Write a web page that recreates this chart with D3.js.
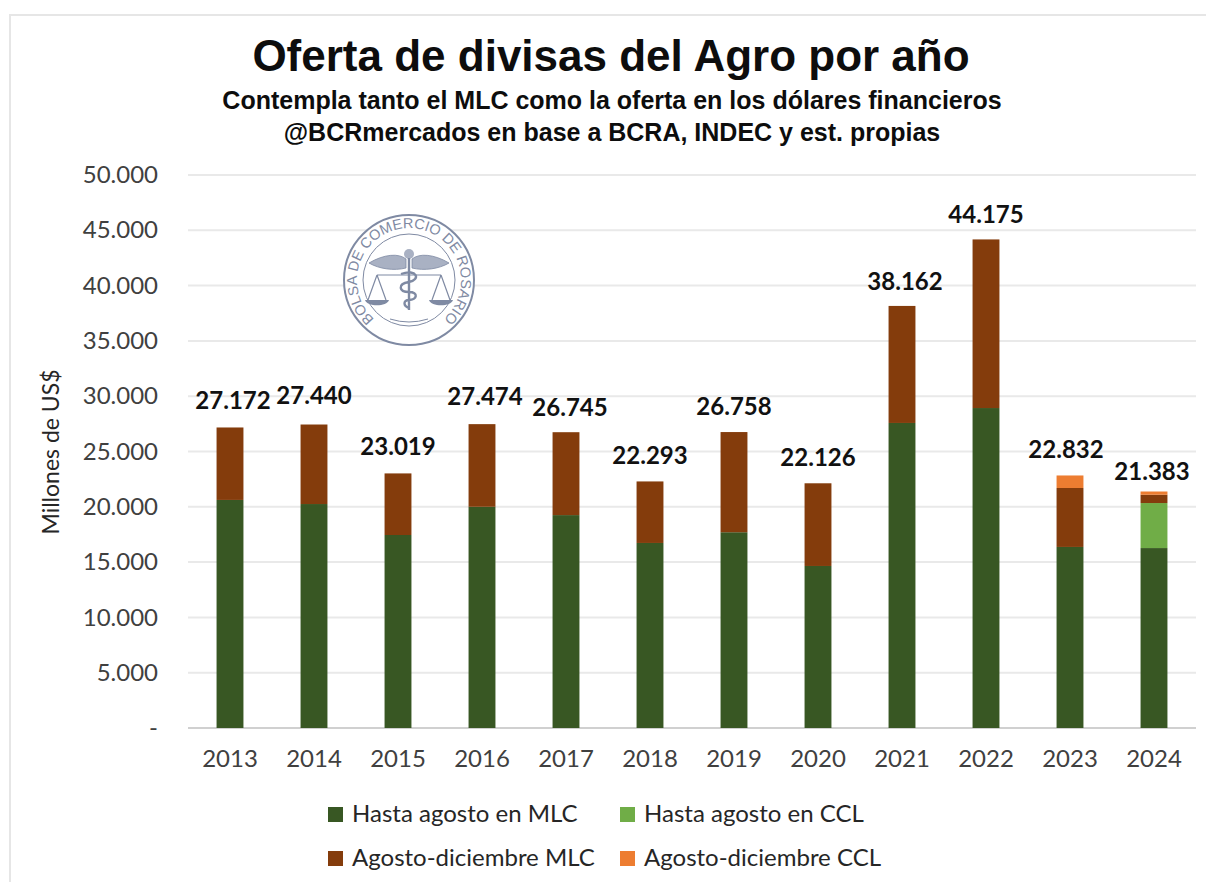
<!DOCTYPE html>
<html>
<head>
<meta charset="utf-8">
<script src="https://cdn.jsdelivr.net/npm/d3@7"></script>
<style>
  html, body { margin: 0; background: #fff; }
  svg { display: block; }
  text { font-family: Lato, "Open Sans", sans-serif; }
  .head { font-family: "Liberation Sans Narrow", "Liberation Sans", sans-serif; font-weight: 700; fill: #0d0d0d; text-anchor: middle; }
  .tick line { display: none; }
  .tick text { fill: #404040; font-size: 24px; }
</style>
</head>
<body>
<svg id="chart" width="1206" height="882"></svg>
<script>
const years = ["2013", "2014", "2015", "2016", "2017", "2018", "2019", "2020", "2021", "2022", "2023", "2024"];
const hastaMLC = [20620, 20250, 17450, 20000, 19250, 16730, 17700, 14650, 27580, 28930, 16370, 16270];
const hastaCCL = [0, 0, 0, 0, 0, 0, 0, 0, 0, 0, 0, 4070];
const agostoMLC = [6552, 7190, 5569, 7474, 7495, 5563, 9058, 7476, 10582, 15245, 5330, 750];
const agostoCCL = [0, 0, 0, 0, 0, 0, 0, 0, 0, 0, 1132, 293];
const totals = [27172, 27440, 23019, 27474, 26745, 22293, 26758, 22126, 38162, 44175, 22832, 21383];
const totalLabelDy = [-18, -21, -18, -19, -16, -17, -17, -17, -16, -16, -17, -12];
const totalLabelDx = [3, 0, 0, 3, 4, 0, 0, 0, 3, 0, -4, -2];
const yTicks = [0, 5000, 10000, 15000, 20000, 25000, 30000, 35000, 40000, 45000, 50000];
const seriesKeys = ["Hasta agosto en MLC", "Hasta agosto en CCL", "Agosto-diciembre MLC", "Agosto-diciembre CCL"];
const seriesValues = [hastaMLC, hastaCCL, agostoMLC, agostoCCL];
const seriesColors = ["#385723", "#70ad47", "#843c0c", "#ed7d31"];

const svg = d3.select("#chart");
const margin = { top: 175, right: 10, bottom: 154, left: 188 };
const width = 1206, height = 882;

// outer frame of the pasted picture
svg.append("path")
  .attr("d", `M${width},15H10V${height}`)
  .attr("fill", "none")
  .attr("stroke", "#e6e6e6")
  .attr("stroke-width", 2);

// titles
svg.append("text").attr("class", "head").attr("x", 611).attr("y", 71)
  .style("font-size", "44px").text("Oferta de divisas del Agro por año");
svg.append("text").attr("class", "head").attr("x", 612).attr("y", 109)
  .style("font-size", "25px").text("Contempla tanto  el MLC como la oferta en los dólares financieros");
svg.append("text").attr("class", "head").attr("x", 612).attr("y", 141)
  .style("font-size", "25px").text("@BCRmercados  en base a BCRA,  INDEC y est. propias");

const x = d3.scaleBand()
  .domain(years)
  .range([margin.left, width - margin.right])
  .paddingInner(0.68)
  .paddingOuter(0.34);

const y = d3.scaleLinear()
  .domain([0, 50000])
  .range([height - margin.bottom, margin.top]);

// gridlines
svg.append("g").selectAll("line")
  .data(yTicks)
  .join("line")
  .attr("x1", margin.left)
  .attr("x2", width - margin.right)
  .attr("y1", d => y(d))
  .attr("y2", d => y(d))
  .attr("stroke", d => d === 0 ? "#d0d0d0" : "#e9e9e9")
  .attr("stroke-width", 2);

// watermark logo
const logo = svg.append("g").attr("transform", "translate(409,280)");
const logoColor = "#7f8aa3";
logo.append("circle").attr("r", 65).attr("fill", "#fff").attr("stroke", logoColor).attr("stroke-width", 2);
logo.append("circle").attr("r", 46).attr("fill", "none").attr("stroke", logoColor).attr("stroke-width", 1);
logo.append("path").attr("id", "logoArc")
  .attr("d", "M-28,44A52,52 0 1 1 28,44")
  .attr("fill", "none");
logo.append("text")
  .attr("fill", logoColor)
  .style("font-family", "'Liberation Sans', sans-serif")
  .style("font-size", "14.5px")
  .append("textPath")
  .attr("href", "#logoArc")
  .attr("startOffset", "50%")
  .attr("text-anchor", "middle")
  .text("BOLSA DE COMERCIO DE ROSARIO");
// wings, staff and scales
logo.append("path")
  .attr("d", "M-40,-17C-25,-26 -10,-27 -3,-21L-3,-12C-15,-9 -30,-11 -40,-17Z M40,-17C25,-26 10,-27 3,-21L3,-12C15,-9 30,-11 40,-17Z")
  .attr("fill", "#a9b1c3").attr("stroke", logoColor).attr("stroke-width", 0.8);
logo.append("circle").attr("cy", -26).attr("r", 5).attr("fill", "#a9b1c3");
logo.append("path")
  .attr("d", "M0,-22V30 M-8,-6C8,-12 12,0 0,2C-12,4 -10,12 0,12C10,12 8,20 0,20C-6,20 -6,26 0,28")
  .attr("fill", "none").attr("stroke", logoColor).attr("stroke-width", 2.4);
logo.append("path")
  .attr("d", "M-32,-5H32 M-32,-5L-41,20 M-32,-5L-23,20 M32,-5L41,20 M32,-5L23,20")
  .attr("fill", "none").attr("stroke", logoColor).attr("stroke-width", 1.2);
logo.append("path")
  .attr("d", "M-44,20H-20C-22,27 -42,27 -44,20Z M44,20H20C22,27 42,27 44,20Z")
  .attr("fill", logoColor);
logo.append("path")
  .attr("d", "M-19,39Q0,45 19,39")
  .attr("fill", "none").attr("stroke", logoColor).attr("stroke-width", 1);

// stacked bars
const stackData = years.map((yr, i) => {
  const row = { year: yr };
  seriesKeys.forEach((k, s) => { row[k] = seriesValues[s][i]; });
  return row;
});
const stacked = d3.stack().keys(seriesKeys)(stackData);

svg.append("g").selectAll("g")
  .data(stacked)
  .join("g")
  .attr("fill", (d, i) => seriesColors[i])
  .selectAll("rect")
  .data(d => d)
  .join("rect")
  .attr("x", d => x(d.data.year))
  .attr("y", d => y(d[1]))
  .attr("width", x.bandwidth())
  .attr("height", d => y(d[0]) - y(d[1]));

// axes
const locale = d3.formatLocale({ decimal: ",", thousands: ".", grouping: [3], currency: ["$", ""] });
const fmt = locale.format(",");

const yAxis = svg.append("g")
  .attr("transform", `translate(${margin.left},0)`)
  .call(d3.axisLeft(y).tickValues(yTicks).tickFormat(d => d === 0 ? "-" : fmt(d)).tickSize(0).tickPadding(30));
yAxis.select(".domain").remove();
yAxis.selectAll("text").style("font-family", "Lato, sans-serif");

const xAxis = svg.append("g")
  .attr("transform", `translate(0,${height - margin.bottom})`)
  .call(d3.axisBottom(x).tickSize(0).tickPadding(22));
xAxis.select(".domain").remove();

svg.append("text")
  .attr("transform", "translate(59,452) rotate(-90)")
  .attr("text-anchor", "middle")
  .attr("fill", "#262626")
  .style("font-size", "23px")
  .text("Millones de US$");

// total labels
svg.append("g").selectAll("text")
  .data(totals)
  .join("text")
  .attr("x", (d, i) => x(years[i]) + x.bandwidth() / 2 + totalLabelDx[i])
  .attr("y", (d, i) => y(d) + totalLabelDy[i])
  .attr("text-anchor", "middle")
  .attr("fill", "#111")
  .style("font-size", "24px")
  .style("font-weight", 700)
  .text(d => fmt(d));

// legend
const legendCols = [328, 620];
const legendRows = [814, 858];
const legend = svg.append("g").selectAll("g")
  .data(seriesKeys)
  .join("g")
  .attr("transform", (d, i) => `translate(${legendCols[i % 2]},${legendRows[Math.floor(i / 2)]})`);
legend.append("rect")
  .attr("y", -7).attr("width", 15).attr("height", 15)
  .attr("fill", (d, i) => seriesColors[i]);
legend.append("text")
  .attr("x", 24).attr("y", 8)
  .attr("fill", "#262626")
  .style("font-size", "24px")
  .text(d => d);
</script>
</body>
</html>
